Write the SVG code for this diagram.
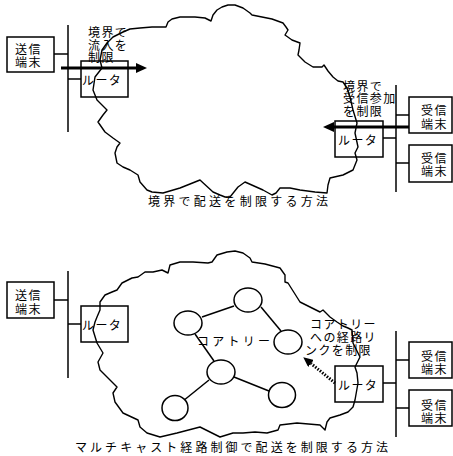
<svg xmlns="http://www.w3.org/2000/svg" width="453" height="456" viewBox="0 0 453 456">
<style>
text{font-family:"Liberation Sans","Noto Sans CJK JP",sans-serif;font-size:12px;letter-spacing:1.4px;fill:#000}
text.cap{letter-spacing:0}
.box{fill:#fff;stroke:#000;stroke-width:1.5}
.ln{stroke:#000;stroke-width:1.5;fill:none}
.cloud{fill:none;stroke:#000;stroke-width:1.4;stroke-linejoin:round}
.node{fill:#fff;stroke:#000;stroke-width:1.5}
.thick{stroke:#000;stroke-width:3;fill:none}
</style>
<defs>
<marker id="ah" markerWidth="12" markerHeight="10" refX="0" refY="5" orient="auto" markerUnits="userSpaceOnUse">
<polygon points="0,0 11,5 0,10" fill="#000"/>
</marker>
<marker id="ah2" markerWidth="11" markerHeight="9" refX="0" refY="4.5" orient="auto" markerUnits="userSpaceOnUse">
<polygon points="0,0 10,4.5 0,9" fill="#000"/>
</marker>
</defs>

<!-- ===== Top diagram ===== -->
<g id="connectors-top">
<line class="ln" x1="68" y1="25" x2="68" y2="132"/>
<line class="ln" x1="54" y1="54" x2="68" y2="54"/>
<line class="ln" x1="68" y1="79" x2="81" y2="79"/>
<line class="ln" x1="396" y1="85" x2="396" y2="192"/>
<line class="ln" x1="396" y1="115" x2="409" y2="115"/>
<line class="ln" x1="396" y1="163" x2="409" y2="163"/>
<line class="ln" x1="383" y1="138" x2="396" y2="138"/>
</g>

<g id="sender-top">
<rect class="box" x="7" y="37" width="47" height="35"/>
<text x="15" y="54">送信<tspan x="15" dy="13">端末</tspan></text>
</g>

<g id="router-top-left">
<rect class="box" x="81" y="61" width="47" height="36"/>
<text x="82" y="85">ルータ</text>
</g>

<g id="router-top-right">
<rect class="box" x="335" y="121" width="48" height="36"/>
<text x="338" y="145">ルータ</text>
</g>

<g id="receiver-top-1">
<rect class="box" x="409" y="97" width="43" height="36"/>
<text x="421" y="115">受信<tspan x="421" dy="14">端末</tspan></text>
</g>

<g id="receiver-top-2">
<rect class="box" x="409" y="145" width="43" height="37"/>
<text x="421" y="163">受信<tspan x="421" dy="13">端末</tspan></text>
</g>

<g id="cloud-top">
<path class="cloud" d="M123,32 L130,29 140,28 152,27 166,27 L168,22 172,19 180,17 195,17 205,18 211,21 L213,15 217,10 222,7 228,5 235,5 243,8 250,13 252,15 L262,17 272,19 283,23 286,27 288,30 285,35 L292,40 300,43 299,50 298,55 305,62 313,67 322,67 324,65 L328,71 333,77 338,81 343,82 L347,88 350,97 353,110 357,123 355,133 358,147 355,153 357,160 353,170 L343,175 330,178 328,185 327,193 L315,192 300,190 290,188 283,188 280,188 276,193 272,195 263,190 245,182 238,187 230,197 L225,197 220,195 213,192 200,180 190,184 180,188 163,193 152,192 147,190 140,182 138,175 L130,170 123,167 117,163 115,153 117,147 120,143 113,138 105,132 98,122 L103,115 107,110 97,100 93,90 95,77 102,68 100,60 102,50 107,43 113,37 Z"/>
</g>

<g id="arrows-top">
<line class="thick" x1="61" y1="68" x2="136" y2="68" marker-end="url(#ah)"/>
<line class="thick" x1="409" y1="127" x2="334" y2="127" marker-end="url(#ah)"/>
</g>

<g id="label-top-left">
<text x="88" y="37">境界で<tspan x="88" dy="12.5">流入を</tspan><tspan x="88" dy="12.5">制限</tspan></text>
</g>

<g id="label-top-right">
<text x="343" y="90.5">境界で<tspan x="343" dy="12.5">受信参加</tspan><tspan x="343" dy="12.5">を制限</tspan></text>
</g>

<text id="caption-top" class="cap" x="148" y="206" textLength="180" lengthAdjust="spacing">境界で配送を制限する方法</text>

<!-- ===== Bottom diagram ===== -->
<g id="connectors-bottom">
<line class="ln" x1="68" y1="271" x2="68" y2="378"/>
<line class="ln" x1="54" y1="300" x2="68" y2="300"/>
<line class="ln" x1="68" y1="324" x2="81" y2="324"/>
<line class="ln" x1="396" y1="331" x2="396" y2="437"/>
<line class="ln" x1="396" y1="360" x2="409" y2="360"/>
<line class="ln" x1="396" y1="408" x2="409" y2="408"/>
<line class="ln" x1="383" y1="383" x2="396" y2="383"/>
<line class="ln" x1="202" y1="317" x2="234" y2="306"/>
<line class="ln" x1="195" y1="334" x2="214" y2="361"/>
<line class="ln" x1="209" y1="380" x2="183" y2="401"/>
<line class="ln" x1="234" y1="377" x2="269" y2="391"/>
<line class="ln" x1="261" y1="307" x2="281" y2="331"/>
</g>

<g id="sender-bottom">
<rect class="box" x="7" y="282" width="47" height="36"/>
<text x="15" y="300">送信<tspan x="15" dy="14">端末</tspan></text>
</g>

<g id="router-bottom-left">
<rect class="box" x="81" y="306" width="47" height="36"/>
<text x="82" y="330">ルータ</text>
</g>

<g id="router-bottom-right">
<rect class="box" x="335" y="366" width="48" height="36"/>
<text x="338" y="390">ルータ</text>
</g>

<g id="receiver-bottom-1">
<rect class="box" x="409" y="342" width="43" height="36"/>
<text x="421" y="361">受信<tspan x="421" dy="13">端末</tspan></text>
</g>

<g id="receiver-bottom-2">
<rect class="box" x="409" y="390" width="43" height="36"/>
<text x="421" y="410">受信<tspan x="421" dy="13">端末</tspan></text>
</g>

<g id="tree-nodes">
<ellipse id="t1" class="node" cx="188" cy="323" rx="14" ry="12"/>
<ellipse id="t2" class="node" cx="221" cy="372" rx="14" ry="12"/>
<ellipse id="t3" class="node" cx="175" cy="408" rx="13" ry="12.5"/>
<ellipse id="t4" class="node" cx="248" cy="300" rx="14" ry="12"/>
<ellipse id="t5" class="node" cx="288" cy="342" rx="14" ry="12"/>
<ellipse id="t6" class="node" cx="282" cy="395" rx="13.5" ry="12.5"/>
</g>

<g id="cloud-bottom">
<path class="cloud" d="M100,310 L100,302 105,295 112,292 117,290 122,283 132,278 138,277 145,272 153,272 162,270 168,273 170,265 180,262 193,262 208,263 212,262 217,255 227,252 235,251 243,253 250,258 252,262 265,264 280,268 285,275 285,282 288,283 300,302 312,308 320,312 323,310 330,317 337,322 L343,326 348,328 352,330 353,343 360,357 355,367 357,373 358,383 355,400 353,407 348,412 340,415 330,418 327,422 325,430 L320,425 297,423 280,425 278,430 267,433 255,432 243,433 233,433 220,437 210,432 200,427 177,433 160,437 147,433 140,427 138,420 123,413 115,402 113,393 117,387 100,370 98,362 103,353 97,343 93,330 95,322 97,317 Z"/>
</g>

<g id="arrow-bottom">
<line x1="335" y1="383" x2="311" y2="363.5" stroke="#000" stroke-width="3" stroke-dasharray="1.5,1.5" marker-end="url(#ah2)"/>
</g>

<text id="label-coretree" class="cap" x="197" y="346" textLength="73" lengthAdjust="spacing">コアトリー</text>

<g id="label-bottom-right">
<text x="310" y="329">コアトリー<tspan x="310" dy="13">への経路リ</tspan><tspan x="305" dy="13">ンクを制限</tspan></text>
</g>

<text id="caption-bottom" class="cap" x="75" y="452" textLength="313" lengthAdjust="spacing">マルチキャスト経路制御で配送を制限する方法</text>
</svg>
